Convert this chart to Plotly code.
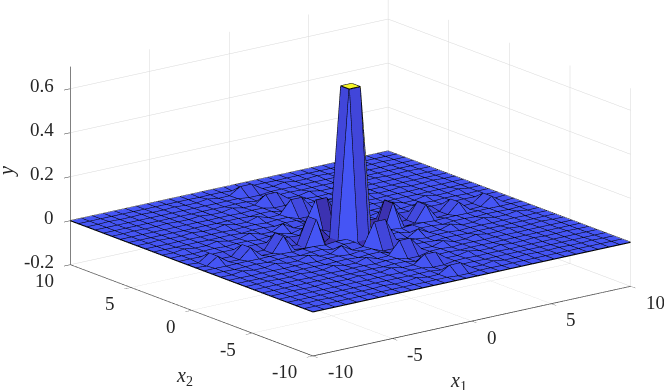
import numpy as np
import plotly.graph_objects as go

# grid of the surface, 30 points each way
x1 = np.linspace(-10, 10, 30)
x2 = np.linspace(-10, 10, 30)

z_ticks = [-0.2, 0, 0.2, 0.4, 0.6]
z_labels = ['-0.2', '0', '0.2', '0.4', '0.6']
xy_ticks = [-10, -5, 0, 5, 10]
xy_labels = ['-10', '-5', '0', '5', '10']

# heights, in thousandths, rows are x1, columns are x2
y_milli = [
    [0,0,0,0,0,0,0,0,0,0,0,0,0,0,0,0,0,0,0,0,0,0,0,0,0,0,0,0,0,0],
    [0,0,0,0,0,0,0,0,0,0,0,-1,0,0,-4,-4,0,0,-1,0,0,0,0,0,0,0,0,0,0,0],
    [0,0,2,0,0,2,0,0,3,-1,-1,6,-2,-1,30,30,-1,-2,6,-1,-1,3,0,0,2,0,0,2,0,0],
    [0,0,0,0,0,0,0,0,0,0,0,-1,0,0,-6,-6,0,0,-1,0,0,0,0,0,0,0,0,0,0,0],
    [0,0,0,0,0,0,0,0,-1,0,0,-1,1,0,-8,-8,0,1,-1,0,0,-1,0,0,0,0,0,0,0,0],
    [0,0,2,0,0,3,0,-1,4,-1,-1,8,-2,-1,36,36,-1,-2,8,-1,-1,4,-1,0,3,0,0,2,0,0],
    [0,0,0,0,0,0,0,0,-1,0,0,-2,1,0,-10,-10,0,1,-2,0,0,-1,0,0,0,0,0,0,0,0],
    [0,0,0,0,0,-1,0,0,-1,0,0,-3,1,0,-12,-12,0,1,-3,0,0,-1,0,0,-1,0,0,0,0,0],
    [0,0,3,0,-1,4,-1,-1,8,-2,-3,12,-4,-2,56,56,-2,-4,12,-3,-2,8,-1,-1,4,-1,0,3,0,0],
    [0,0,-1,0,0,-1,0,0,-2,0,1,-3,1,1,-16,-16,1,1,-3,1,0,-2,0,0,-1,0,0,-1,0,0],
    [0,0,-1,0,0,-1,0,0,-3,1,1,-4,2,1,-20,-20,1,2,-4,1,1,-3,0,0,-1,0,0,-1,0,0],
    [0,-1,6,-1,-1,8,-2,-3,12,-3,-4,22,-8,-3,98,98,-3,-8,22,-4,-3,12,-3,-2,8,-1,-1,6,-1,0],
    [0,0,-2,0,1,-2,1,1,-4,1,2,-8,4,2,-50,-50,2,4,-8,2,1,-4,1,1,-2,1,0,-2,0,0],
    [0,0,-1,0,0,-1,0,0,-2,1,1,-3,2,1,-20,-20,1,2,-3,1,1,-2,0,0,-1,0,0,-1,0,0],
    [0,-4,30,-6,-8,36,-10,-12,56,-16,-20,98,-50,-20,660,660,-20,-50,98,-20,-16,56,-12,-10,36,-8,-6,30,-4,0],
    [0,-4,30,-6,-8,36,-10,-12,56,-16,-20,98,-50,-20,660,660,-20,-50,98,-20,-16,56,-12,-10,36,-8,-6,30,-4,0],
    [0,0,-1,0,0,-1,0,0,-2,1,1,-3,2,1,-20,-20,1,2,-3,1,1,-2,0,0,-1,0,0,-1,0,0],
    [0,0,-2,0,1,-2,1,1,-4,1,2,-8,4,2,-50,-50,2,4,-8,2,1,-4,1,1,-2,1,0,-2,0,0],
    [0,-1,6,-1,-1,8,-2,-3,12,-3,-4,22,-8,-3,98,98,-3,-8,22,-4,-3,12,-3,-2,8,-1,-1,6,-1,0],
    [0,0,-1,0,0,-1,0,0,-3,1,1,-4,2,1,-20,-20,1,2,-4,1,1,-3,0,0,-1,0,0,-1,0,0],
    [0,0,-1,0,0,-1,0,0,-2,0,1,-3,1,1,-16,-16,1,1,-3,1,0,-2,0,0,-1,0,0,-1,0,0],
    [0,0,3,0,-1,4,-1,-1,8,-2,-3,12,-4,-2,56,56,-2,-4,12,-3,-2,8,-1,-1,4,-1,0,3,0,0],
    [0,0,0,0,0,-1,0,0,-1,0,0,-3,1,0,-12,-12,0,1,-3,0,0,-1,0,0,-1,0,0,0,0,0],
    [0,0,0,0,0,0,0,0,-1,0,0,-2,1,0,-10,-10,0,1,-2,0,0,-1,0,0,0,0,0,0,0,0],
    [0,0,2,0,0,3,0,-1,4,-1,-1,8,-2,-1,36,36,-1,-2,8,-1,-1,4,-1,0,3,0,0,2,0,0],
    [0,0,0,0,0,0,0,0,-1,0,0,-1,1,0,-8,-8,0,1,-1,0,0,-1,0,0,0,0,0,0,0,0],
    [0,0,0,0,0,0,0,0,0,0,0,-1,0,0,-6,-6,0,0,-1,0,0,0,0,0,0,0,0,0,0,0],
    [0,0,2,0,0,2,0,0,3,-1,-1,6,-2,-1,30,30,-1,-2,6,-1,-1,3,0,0,2,0,0,2,0,0],
    [0,0,0,0,0,0,0,0,0,0,0,-1,0,0,-4,-4,0,0,-1,0,0,0,0,0,0,0,0,0,0,0],
    [0,0,0,0,0,0,0,0,0,0,0,0,0,0,0,0,0,0,0,0,0,0,0,0,0,0,0,0,0,0],
]
y = np.array(y_milli) / 1000.0

n = len(x1)
X, Y = np.meshgrid(x1, x2, indexing='ij')

# two triangles per cell, each cell coloured by its first corner like MATLAB surf
ii, jj, kk, cell_val = [], [], [], []
for a in range(n - 1):
    for b in range(n - 1):
        p0 = a * n + b
        p1 = (a + 1) * n + b
        p2 = (a + 1) * n + b + 1
        p3 = a * n + b + 1
        ii += [p0, p0]
        jj += [p1, p2]
        kk += [p2, p3]
        cell_val += [y[a, b], y[a, b]]

surf_scale = [[0, '#3a2ca6'], [0.083, '#4555f5'], [0.22, '#3f6cf5'], [1, '#f5f52a']]

fig = go.Figure()
fig.add_trace(go.Mesh3d(
    x=X.ravel(), y=Y.ravel(), z=y.ravel(), i=ii, j=jj, k=kk,
    intensity=cell_val, intensitymode='cell', colorscale=surf_scale,
    cmin=-0.06, cmax=0.66, showscale=False, flatshading=True,
    lighting=dict(ambient=1, diffuse=0, specular=0, roughness=1, fresnel=0),
    hoverinfo='skip'))

# black mesh lines
lx, ly, lz = [], [], []
for a in range(n):
    lx += list(X[a, :]) + [None]
    ly += list(Y[a, :]) + [None]
    lz += list(y[a, :]) + [None]
    lx += list(X[:, a]) + [None]
    ly += list(Y[:, a]) + [None]
    lz += list(y[:, a]) + [None]
fig.add_trace(go.Scatter3d(x=lx, y=ly, z=lz, mode='lines',
                           line=dict(color='#000000', width=2.2), hoverinfo='skip'))

tick_font = dict(family='Liberation Serif', size=19, color='#262626')
title_font = dict(family='Liberation Serif', size=20, color='#262626')
common = dict(showbackground=False, gridcolor='#d8d8d8', gridwidth=1, zeroline=False,
              showline=True, linecolor='#333333', linewidth=1.5, ticks='outside',
              tickcolor='#333333', ticklen=8, showticklabels=False, showspikes=False,
              title=dict(text=''))

# labels as scene annotations so they stay upright like the original
notes = []
for v, s in zip(z_ticks, z_labels):
    notes.append(dict(x=-10, y=10, z=v, text=s, showarrow=False, font=tick_font,
                      xanchor='right', xshift=-14, yshift=3))
for v, s in zip(xy_ticks, xy_labels):
    notes.append(dict(x=v, y=-10, z=-0.2, text=s, showarrow=False, font=tick_font,
                      xanchor='left', xshift=13, yshift=-16))
    notes.append(dict(x=-10, y=v, z=-0.2, text=s, showarrow=False, font=tick_font,
                      xanchor='right', xshift=-14, yshift=-16))
notes.append(dict(x=0, y=-10, z=-0.2, text='<i>x</i><sub>1</sub>', showarrow=False,
                  font=title_font, xshift=-13, yshift=-60))
notes.append(dict(x=-10, y=0, z=-0.2, text='<i>x</i><sub>2</sub>', showarrow=False,
                  font=title_font, xshift=-7, yshift=-66))
notes.append(dict(x=-10, y=10, z=0.25, text='<i>y</i>', showarrow=False,
                  font=title_font, textangle=-90, xshift=-64, yshift=-6))

fig.update_layout(
    width=664, height=390, margin=dict(l=0, r=0, t=0, b=0),
    paper_bgcolor='white', showlegend=False,
    scene=dict(
        xaxis=dict(range=[-10, 10], tickvals=xy_ticks, **common),
        yaxis=dict(range=[-10, 10], tickvals=xy_ticks, **common),
        zaxis=dict(range=[-0.2, 0.7], tickvals=z_ticks, **common),
        aspectmode='manual', aspectratio=dict(x=2.05, y=2.05, z=1.06),
        annotations=notes,
        camera=dict(projection=dict(type='orthographic'),
                    eye=dict(x=-0.9624, y=-1.1047, z=0.3392),
                    center=dict(x=-0.092, y=0.0357, z=-0.0908), up=dict(x=0, y=0, z=1)),
    ))

# drop the page's default body margin so the whole figure fits the window
fig.write_html("out.html", config={'displayModeBar': False},
               post_script="document.body.style.margin='0';")
